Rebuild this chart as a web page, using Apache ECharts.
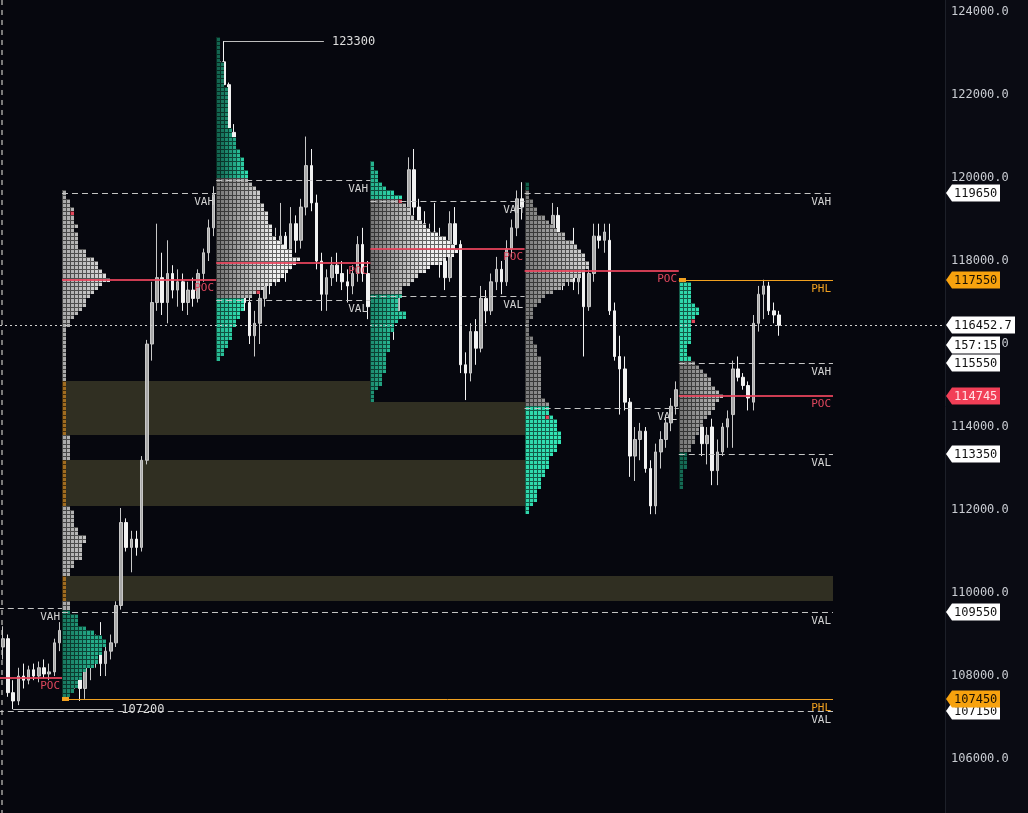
<!DOCTYPE html>
<html>
<head>
<meta charset="utf-8">
<script src="https://cdn.jsdelivr.net/npm/echarts@6.0.0/dist/echarts.min.js"></script>
<style>
html,body{margin:0;padding:0;background:#06070e;overflow:hidden;}
#wrap{position:relative;width:1028px;height:813px;}
#axisbg{position:absolute;left:945px;top:0;width:83px;height:813px;background:#0a0b13;}
#chart{position:absolute;left:0;top:0;width:1028px;height:813px;}
</style>
</head>
<body>
<div id="wrap"><div id="axisbg"></div><div id="chart"></div></div>
<script>
// ================= DATA =================
const BIN = 100;
const yTicks = [106000, 108000, 110000, 112000, 114000, 116000, 118000, 120000, 122000, 124000];

// candles per session: [open, high, low, close]
const candleFirstBar = [18, 30, 60, 90, 120, 150];
const candlesS0 = [
  [108700,109200,108400,108900],[108900,109000,107500,107600],[107600,107900,107200,107400],
  [107400,108200,107300,108000],[108000,108300,107700,107900],[107900,108250,107800,108150],
  [108150,108300,107900,108000],[108000,108350,107850,108200],[108200,108400,107950,108050],
  [108050,108300,107900,108100],[108100,108900,108000,108800],[108800,109300,108600,109100]
];
const candlesS1 = [
  [109100,109700,108700,108900],[108900,109400,108400,108700],[108700,108900,107700,108000],
  [108000,108300,107400,107700],[107700,108500,107450,108300],[108300,108700,107900,108500],
  [108500,109000,108200,108800],[108800,109300,108000,108300],[108300,108800,108000,108600],
  [108600,109000,108400,108800],[108800,109800,108700,109700],[109700,112050,109600,111700],
  [111700,111800,111000,111100],[111100,111500,110500,111300],[111300,111500,110900,111100],
  [111100,113300,111000,113200],[113200,116100,113100,116000],[116000,117500,115600,117000],
  [117000,118900,116800,117600],[117600,118200,116700,117000],[117000,118500,116500,117700],
  [117700,117900,117100,117300],[117300,117800,116900,117500],[117500,117700,116800,117000],
  [117000,117500,116700,117300],[117300,117600,116900,117100],[117100,117800,117000,117700],
  [117700,118300,117500,118200],[118200,119000,118000,118800],[118800,119800,118600,119600]
];
const candlesS2 = [
  [119600,122900,119400,122800],[122800,123300,122200,122250],[122250,122300,120900,121100],
  [121100,121300,119500,119700],[119700,120000,118000,118300],[118300,118500,116800,117000],
  [117000,117300,116000,116200],[116200,116800,115700,116500],[116500,117300,116000,117100],
  [117100,118500,116900,118300],[118300,118800,117200,117500],[117500,118800,117400,118400],
  [118400,119400,118200,118600],[118600,118700,117500,118000],[118000,119300,117800,118900],
  [118900,119100,118200,118500],[118500,119500,118300,119300],[119300,121000,119100,120300],
  [120300,120700,119200,119400],[119400,119600,117800,118000],[118000,118200,116800,117200],
  [117200,117800,116800,117600],[117600,118100,117400,117900],[117900,118200,117500,117700],
  [117700,118000,117300,117500],[117500,117800,117000,117400],[117400,117900,117200,117700],
  [117700,118600,117500,118400],[118400,118800,117500,117700],[117700,118000,116600,116900]
];
const candlesS3 = [
  [116900,117800,116700,117600],[117600,118400,117300,118200],[118200,118600,117600,117900],
  [117900,118200,117000,117300],[117300,117500,116100,116800],[116800,118000,116600,117800],
  [117800,119300,117600,119100],[119100,120500,118900,120200],[120200,120700,119000,119300],
  [119300,119500,118700,118900],[118900,119200,118200,118500],[118500,118900,117900,118700],
  [118700,119400,118200,118400],[118400,118800,117600,118000],[118000,118300,117300,117600],
  [117600,119200,117500,118900],[118900,119300,118200,118400],[118400,118500,115300,115500],
  [115500,115800,114650,115300],[115300,116500,115100,116300],[116300,116600,115500,115900],
  [115900,117400,115800,117100],[117100,117300,116500,116800],[116800,117700,116700,117500],
  [117500,118100,117300,117800],[117800,118000,117200,117500],[117500,118500,117400,118300],
  [118300,119000,118100,118800],[118800,119700,118600,119500],[119500,119900,119000,119300]
];
const candlesS4 = [
  [119300,119600,118700,118900],[118900,119100,118200,118500],[118500,118900,118000,118700],
  [118700,119000,118100,118300],[118300,118800,117800,118600],[118600,119400,118400,119100],
  [119100,119300,118200,118400],[118400,118700,117300,117600],[117600,118300,117400,118000],
  [118000,118800,117300,117500],[117500,118000,117200,117800],[117900,118000,115700,116900],
  [116900,117800,116800,117700],[117700,118900,117500,118600],[118600,118900,118300,118500],
  [118500,118900,118200,118700],[118500,118900,116700,116800],[116800,117000,115600,115700],
  [115700,116200,114300,115400],[115400,115700,114400,114600],[114600,114700,112800,113300],
  [113300,114000,112700,113700],[113700,114100,113200,113900],[113900,114000,112900,113000],
  [113000,113200,111900,112100],[112100,113600,111900,113400],[113400,113900,113000,113700],
  [113700,114300,113500,114100],[114100,114700,113900,114500],[114500,115100,114300,114900]
];
const candlesS5 = [
  [114900,115200,114300,114500],[114500,114900,113900,114100],[114100,114600,113600,114400],
  [114400,114900,113900,114000],[114000,114300,113300,113600],[113600,114000,113100,113800],
  [114000,114200,112600,112950],[112950,113700,112600,113400],[113400,114100,113300,114000],
  [114000,114400,113500,114200],[114300,115600,113500,115400],[115400,115700,115100,115200],
  [115200,115300,114900,115000],[115000,115100,114400,114700],[114600,116700,114400,116500],
  [116500,117400,116300,117200],[117200,117550,116600,117400],[117400,117500,116700,116800],
  [116800,117000,116500,116700],[116700,116800,116200,116452.7]
];

// sessions (session 0 starts at bar 0, each 30 bars)
const sessionStart = [0, 30, 60, 90, 120, 150];
const sessionVAH = [109650, 119650, 119950, 119450, 119650, 115550];
const sessionPOC = [107950, 117550, 117950, 118300, 117750, 114745];
const sessionVAL = [107150, 109550, 117050, 117150, 114450, 113350];
const vahEnd = [30, 60, 90, 120, 180, 180];
const pocEnd = [30, 60, 90, 120, 150, 180];
const valEnd = [180, 180, 90, 120, 150, 180];
const phlStart = [30, 150];
const phlPrice = [107450, 117550];
const phlEnd = [180, 180];
const RIGHT_END = 180;

// TPO profiles (row counts from top price, down in steps of BIN)
const profileStart = [30, 60, 90, 120, 150];
const profileTop = [119600, 123300, 120300, 119800, 117400];
const profile1 = [1,1,2,2,3,3,3,3,4,3,4,4,4,4,6,6,8,9,9,10,11,12,10,9,8,7,6,6,5,4,3,2,2,
  1,1,1,1,1,1,1,1,1,1,1,1,1,
  1,1,1,1,1,1,1,1,1,1,1,1,1,
  2,2,2,2,2,2,
  1,1,1,1,1,1,1,1,1,1,1,
  2,3,3,3,3,4,4,6,6,5,5,5,5,3,3,2,2,
  1,1,1,1,1,1,
  2,2,2,
  4,4,4,6,8,10,11,11,10,10,9,9,8,6,5,5,4,4,3,2];
const profile2 = [1,1,1,1,1,1,2,2,2,2,2,2,3,3,3,3,3,3,3,3,3,3,
  4,4,5,5,5,6,6,7,7,7,8,8,
  8,9,10,11,11,11,12,12,13,13,13,14,14,14,15,16,17,19,19,21,20,19,18,17,16,14,12,11,9,
  7,7,7,6,6,5,5,4,4,4,3,3,2,2,1];
const profile3 = [1,1,2,2,2,3,4,6,
  8,8,9,10,10,11,13,14,15,17,19,20,21,22,21,19,18,15,14,12,11,10,8,8,
  8,7,7,7,9,9,7,6,6,5,5,5,5,5,4,4,4,4,4,3,3,3,2,1,1,1];
const profile4 = [1,1,1,1,2,2,3,3,5,6,7,8,10,10,12,13,14,15,15,16,16,15,14,12,10,9,7,5,4,3,2,2,2,1,1,1,1,2,2,3,3,3,4,4,4,4,4,4,4,4,4,4,5,6,
  6,6,7,8,8,8,9,9,9,8,8,7,6,6,6,5,5,4,4,4,3,3,3,2,1,1];
const profile5 = [3,3,3,3,3,4,5,5,4,4,3,3,3,3,3,2,2,2,3,
  4,5,6,7,8,8,9,10,11,10,9,9,8,7,6,6,5,5,4,4,3,3,
  2,2,2,2,1,1,1,1,1];
const profileCounts = [profile1, profile2, profile3, profile4, profile5];

// close-period marker cells in each profile
const closeMarkPrice = [119100, 117200, 119400, 114200, 116500];
const closeMarkCol = [2, 10, 7, 5, 3];

// single-print zones
const bandStart = [30, 30, 30, 30];
const bandEnd = [90, 120, 120, 180];
const bandLow = [114600, 113800, 112100, 109800];
const bandHigh = [115100, 114600, 113200, 110400];

// session extremes
const extremeBar = [61.5, 20.5];
const extremePrice = [123300, 107200];

const lastPrice = 116452.7;
const countdown = '157:15';
const weekMarkBar = [18.3];

// ================= STYLE =================
const CELL_W = 4;
const FONT_MONO = '"DejaVu Sans Mono", "Liberation Mono", monospace';
const GRAY_RANGE = [[170,238],[118,240],[118,240],[125,210],[120,220]];
const TEAL_UP = [[0,0],[0.1,0.95],[0.65,1],[0.05,0.15],[0.9,1]];
const TEAL_DN = [[0.25,0.6],[0.7,1],[0.4,0.85],[0.9,1],[0.12,0.25]];
const TEAL_DARK = [16,88,70], TEAL_BRIGHT = [50,228,182];
const SINGLE_PRINT = [160,108,32];
const CLOSE_MARK = [226,72,92];
const LEVEL_STYLE = {
  va:  {stroke:'#c4c4c4', width:1, dash:[6,4], text:'#d2d2d2'},
  poc: {stroke:'rgba(232,68,92,0.88)', width:2, dash:null, text:'#e0475e'},
  phl: {stroke:'#f0a020', width:1, dash:null, text:'#f0a020'}
};
const TAG_STYLE = {
  va:   {bg:'#ffffff', fg:'#111111'},
  poc:  {bg:'#f23f57', fg:'#ffe3e7'},
  phl:  {bg:'#f7a20e', fg:'#1b1204'},
  last: {bg:'#ffffff', fg:'#111111'}
};

// ================= BUILD =================
const candleData = [];
[candlesS0, candlesS1, candlesS2, candlesS3, candlesS4, candlesS5].forEach((arr, s) => {
  arr.forEach((c, k) => candleData.push([candleFirstBar[s] + k + 0.5, c[0], c[3], c[2], c[1]]));
});

const profileRows = [];
profileCounts.forEach((counts, p) => {
  counts.forEach((n, r) => profileRows.push([profileStart[p], profileTop[p] - r * BIN, n, p]));
});

const levelList = [];
for (let s = 0; s < sessionStart.length; s++) {
  levelList.push({x0:sessionStart[s], x1:vahEnd[s], price:sessionVAH[s], kind:'va', text:'VAH'});
  levelList.push({x0:sessionStart[s], x1:valEnd[s], price:sessionVAL[s], kind:'va', text:'VAL'});
  levelList.push({x0:sessionStart[s], x1:pocEnd[s], price:sessionPOC[s], kind:'poc', text:'POC'});
}
for (let i = 0; i < phlPrice.length; i++) {
  levelList.push({x0:phlStart[i], x1:phlEnd[i], price:phlPrice[i], kind:'phl', text:'PHL'});
}

const kindOrder = {va:0, poc:1, phl:2};
const tagList = levelList.filter(L => L.x1 === RIGHT_END)
  .map(L => ({price:L.price, kind:L.kind, text:String(L.price)}))
  .sort((a, b) => kindOrder[a.kind] - kindOrder[b.kind]);
tagList.push({price:lastPrice, kind:'last', text:lastPrice.toFixed(1), sub:countdown});

function rgb(c, k) {
  return 'rgb(' + c.map(v => Math.round(v * k)).join(',') + ')';
}
function mixArr(a, b, t) { return a.map((v, i) => v + (b[i] - v) * t); }

function cellRGB(p, price, col) {
  const s = p + 1;
  if (closeMarkPrice[p] === price && closeMarkCol[p] === col) return CLOSE_MARK;
  if (col === 0) {
    for (let i = 0; i < bandLow.length; i++) {
      if (bandStart[i] === profileStart[p] && price >= bandLow[i] && price < bandHigh[i]) return SINGLE_PRINT;
    }
  }
  if (price >= sessionVAL[s] && price < sessionVAH[s]) {
    const r = GRAY_RANGE[p];
    const g = r[0] + (r[1] - r[0]) * Math.min(1, col / 14);
    return [g, g, g];
  }
  const tr = price >= sessionVAH[s] ? TEAL_UP[p] : TEAL_DN[p];
  return mixArr(TEAL_DARK, TEAL_BRIGHT, tr[0] + (tr[1] - tr[0]) * Math.min(1, col / 7));
}

function txt(text, x, y, fill, size, align, valign) {
  return {type:'text', style:{text:text, x:x, y:y, fill:fill, font:size + 'px ' + FONT_MONO,
    align:align, verticalAlign:valign, textAlign:align, textVerticalAlign:valign}};
}

function renderProfileRow(params, api) {
  const start = api.value(0), price = api.value(1), count = api.value(2), p = api.value(3);
  const top = api.coord([start, price + BIN]);
  const bot = api.coord([start, price]);
  const x0 = Math.round(top[0]);
  const y0 = Math.round(top[1]);
  const h = Math.round(bot[1]) - y0;
  const children = [];
  for (let c = 0; c < count; c++) {
    const col = cellRGB(p, price, c);
    children.push({type:'rect', shape:{x:x0 + c * CELL_W, y:y0, width:CELL_W, height:h},
      style:{fill:rgb(col, 0.42)}});
    children.push({type:'rect', shape:{x:x0 + c * CELL_W + 1, y:y0 + 1, width:CELL_W - 1, height:h - 1},
      style:{fill:rgb(col, 1)}});
  }
  return {type:'group', children:children};
}

function renderBand(params, api) {
  const i = params.dataIndex;
  const a = api.coord([bandStart[i], bandHigh[i]]);
  const b = api.coord([bandEnd[i], bandLow[i]]);
  return {type:'rect', shape:{x:Math.round(a[0]), y:Math.round(a[1]), width:Math.round(b[0]) - Math.round(a[0]),
    height:Math.round(b[1]) - Math.round(a[1])}, style:{fill:'#302f22'}};
}

function renderLevel(params, api) {
  const L = levelList[params.dataIndex];
  const a = api.coord([L.x0, L.price]);
  const b = api.coord([L.x1, L.price]);
  const st = LEVEL_STYLE[L.kind];
  const y = Math.round(a[1]) + (st.width === 1 ? 0.5 : 0);
  const ch = [{type:'line', shape:{x1:a[0], y1:y, x2:b[0], y2:y},
    style:{stroke:st.stroke, lineWidth:st.width, lineDash:st.dash || 'solid'}}];
  if (L.kind === 'phl') {
    ch.push({type:'rect', shape:{x:Math.round(a[0]), y:Math.round(a[1]) - 2, width:7, height:4}, style:{fill:st.stroke}});
  }
  ch.push(txt(L.text, Math.round(b[0]) - 2, y + 3, st.text, 11, 'right', 'top'));
  return {type:'group', children:ch};
}

function renderTag(params, api) {
  const T = tagList[params.dataIndex];
  const cs = params.coordSys;
  const tip = cs.x + cs.width + 1;
  const y = Math.round(api.coord([0, T.price])[1]);
  const st = TAG_STYLE[T.kind];
  const ch = [];
  const makeTag = (cy, text) => {
    const left = tip + 6;
    const right = Math.round(left + 2 + text.length * 7.23 + 3);
    ch.push({type:'polygon', shape:{points:[[tip, cy], [left, cy - 8.5], [right, cy - 8.5], [right, cy + 8.5], [left, cy + 8.5]]},
      style:{fill:st.bg}});
    ch.push(txt(text, left + 2, cy + 0.5, st.fg, 12, 'left', 'middle'));
  };
  makeTag(y, T.text);
  if (T.sub) makeTag(y + 20, T.sub);
  return {type:'group', children:ch};
}

function renderExtreme(params, api) {
  const i = params.dataIndex;
  const p = api.coord([extremeBar[i], extremePrice[i]]);
  const y = Math.round(p[1]) + 0.5;
  return {type:'group', children:[
    {type:'line', shape:{x1:p[0], y1:y, x2:p[0] + 100, y2:y}, style:{stroke:'#bdbdbd', lineWidth:1}},
    txt(String(extremePrice[i]), p[0] + 108, y, '#dedede', 12, 'left', 'middle')
  ]};
}

function renderLastLine(params, api) {
  const cs = params.coordSys;
  const y = Math.round(api.coord([0, lastPrice])[1]) + 0.5;
  return {type:'line', shape:{x1:cs.x, y1:y, x2:cs.x + cs.width, y2:y},
    style:{stroke:'#cfcfcf', lineWidth:1, lineDash:[2, 3]}};
}

function renderSep(params, api) {
  const cs = params.coordSys;
  const x = Math.round(api.coord([weekMarkBar[params.dataIndex], yTicks[0]])[0]);
  return {type:'line', shape:{x1:x, y1:cs.y, x2:x, y2:cs.y + cs.height},
    style:{stroke:'#7a7a7a', lineWidth:2, lineDash:[5, 5]}};
}

const chart = echarts.init(document.getElementById('chart'), null, {renderer:'canvas'});
chart.setOption({
  animation:false,
  backgroundColor:'transparent',
  grid:{left:0, right:83, top:0, bottom:0},
  xAxis:{type:'value', min:17.94, max:201.79, show:false},
  yAxis:{
    type:'value', position:'right', min:104700, max:124290,
    axisLine:{show:true, lineStyle:{color:'#1d2029', width:1}},
    axisTick:{show:false},
    splitLine:{show:false},
    axisLabel:{customValues:yTicks, formatter:v => v.toFixed(1), color:'#c9ccd2',
      fontFamily:'DejaVu Sans Mono', fontSize:12, margin:6}
  },
  series:[
    {type:'custom', name:'bands', z:1, silent:true, renderItem:renderBand,
      data:bandLow.map((v, i) => [bandStart[i], v])},
    {type:'custom', name:'sep', z:1, silent:true, renderItem:renderSep,
      data:weekMarkBar.map(b => [b, yTicks[0]])},
    {type:'candlestick', name:'price', z:2, silent:true, barWidth:3,
      dimensions:['x','open','close','low','high'],
      encode:{x:'x', y:['open','close','low','high']},
      itemStyle:{color:'#a8a8a8', borderColor:'#c8c8c8', color0:'#f2f2f2', borderColor0:'#f2f2f2', borderWidth:1},
      data:candleData},
    {type:'custom', name:'profiles', z:3, silent:true, renderItem:renderProfileRow,
      dimensions:['x','price','count','profile'], encode:{x:0, y:1}, data:profileRows},
    {type:'custom', name:'levels', z:4, silent:true, renderItem:renderLevel,
      data:levelList.map(L => [L.x0, L.price])},
    {type:'custom', name:'last', z:4, silent:true, renderItem:renderLastLine, data:[[0, lastPrice]]},
    {type:'custom', name:'extremes', z:5, silent:true, renderItem:renderExtreme,
      data:extremeBar.map((b, i) => [b, extremePrice[i]])},
    {type:'custom', name:'tags', z:10, silent:true, renderItem:renderTag,
      data:tagList.map(T => [0, T.price])}
  ]
});
</script>
</body>
</html>
